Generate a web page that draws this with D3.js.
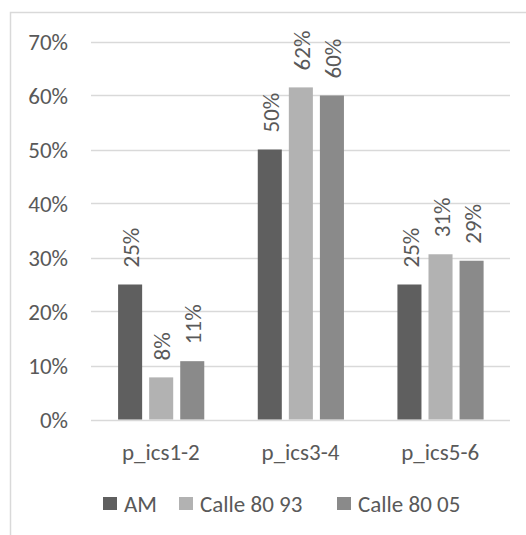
<!DOCTYPE html>
<html>
<head>
<meta charset="utf-8">
<script src="https://cdn.jsdelivr.net/npm/d3@7"></script>
<style>
  html, body { margin: 0; padding: 0; background: #fff; }
  svg { display: block; }
  text { font-family: Carlito, Calibri, "Open Sans", sans-serif; fill: #595959; }
</style>
</head>
<body>
<svg id="chart" width="526" height="535"></svg>
<script>
const categories = ["p_ics1-2", "p_ics3-4", "p_ics5-6"];
const seriesNames = ["AM", "Calle 80 93", "Calle 80 05"];
const amValues = [0.25, 0.50, 0.25];
const calle93Values = [0.078, 0.615, 0.306];
const calle05Values = [0.108, 0.600, 0.294];
const seriesColors = ["#5f5f5f", "#b2b2b2", "#8a8a8a"];
const yTicks = [0, 0.1, 0.2, 0.3, 0.4, 0.5, 0.6, 0.7];

const seriesValues = [amValues, calle93Values, calle05Values];

const svg = d3.select("#chart");
const fontSize = 23;
const ff = 'Carlito, Calibri, "Open Sans", sans-serif';

// chart border
svg.append("rect")
  .attr("x", 10.5).attr("y", 12.5)
  .attr("width", 540).attr("height", 560)
  .attr("fill", "none").attr("stroke", "#d9d9d9").attr("stroke-width", 1.5);

const plotLeft = 91, plotRight = 510;
const y = d3.scaleLinear().domain([0, 0.7]).range([419.5, 41.5]);
const x = d3.scaleBand().domain(categories).range([plotLeft, plotRight]).padding(0);
const bw = x.bandwidth();
const xs = d3.scaleBand().domain(seriesNames)
  .range([bw * 0.194, bw * 0.194 + bw * 0.617]).paddingInner(0.226).paddingOuter(0);

// gridlines
svg.append("g").selectAll("line").data(yTicks).join("line")
  .attr("x1", plotLeft).attr("x2", plotRight)
  .attr("y1", d => Math.round(y(d)) + 0.5).attr("y2", d => Math.round(y(d)) + 0.5)
  .attr("stroke", "#d9d9d9").attr("stroke-width", 1.3);

// y axis labels
const yAxis = d3.axisLeft(y).tickValues(yTicks).tickFormat(d3.format(".0%")).tickSize(0).tickPadding(0);
const yg = svg.append("g").attr("transform", "translate(68,0)").call(yAxis);
yg.select(".domain").remove();
yg.selectAll("text").style("font-size", fontSize + "px").attr("fill", "#595959")
  .style("font-family", ff).attr("dy", "0.35em");

// bars
const groups = svg.append("g").selectAll("g").data(categories).join("g")
  .attr("transform", d => `translate(${x(d)},0)`);

seriesNames.forEach((s, si) => {
  groups.append("rect")
    .attr("x", xs(s))
    .attr("width", xs.bandwidth())
    .attr("y", (d, i) => y(seriesValues[si][i]))
    .attr("height", (d, i) => y(0) - y(seriesValues[si][i]))
    .attr("fill", seriesColors[si]);
  groups.append("text")
    .attr("transform", (d, i) => `translate(${xs(s) + xs.bandwidth() / 2 + 1},${y(seriesValues[si][i]) - 17}) rotate(-90)`)
    .attr("dy", "0.35em")
    .attr("text-anchor", "start")
    .style("font-size", fontSize + "px")
    .text((d, i) => d3.format(".0%")(seriesValues[si][i]));
});

// x axis labels
const xAxis = d3.axisBottom(x).tickSize(0).tickPadding(0);
const xg = svg.append("g").attr("transform", "translate(0,452)").call(xAxis);
xg.select(".domain").remove();
xg.selectAll("text").style("font-size", fontSize + "px").attr("fill", "#595959")
  .style("font-family", ff).attr("dy", "0.35em");

// legend
const legendX = [103, 179, 337];
const lg = svg.append("g").selectAll("g").data(seriesNames).join("g")
  .attr("transform", (d, i) => `translate(${legendX[i]},497)`);
lg.append("rect").attr("width", 14).attr("height", 13).attr("fill", (d, i) => seriesColors[i]);
lg.append("text").attr("x", 21).attr("y", 6.5).attr("dy", "0.35em")
  .style("font-size", fontSize + "px").text(d => d);
</script>
</body>
</html>
